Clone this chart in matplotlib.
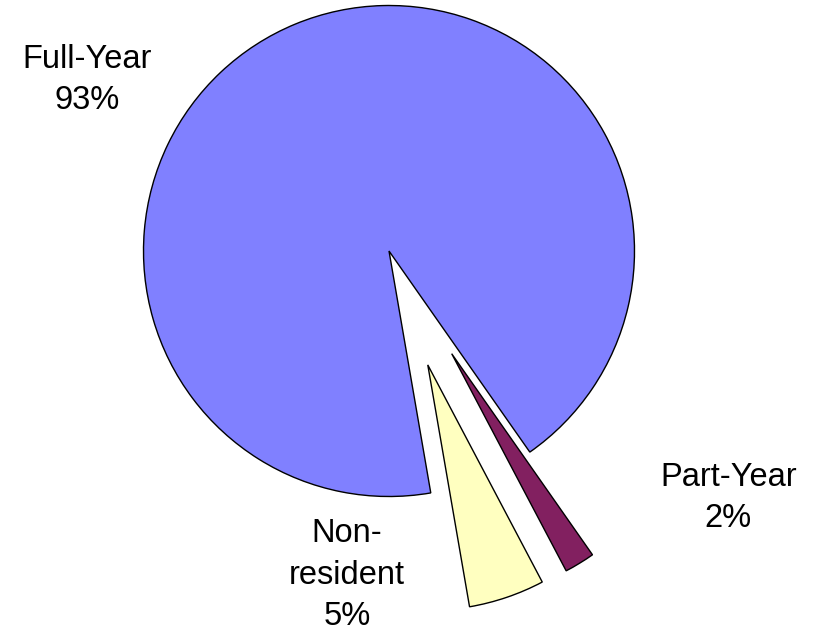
import matplotlib
matplotlib.use("Agg")
import matplotlib.pyplot as plt

categories = ["Full-Year", "Part-Year", "Non-\nresident"]
values = [93, 2, 5]
pct_labels = ["93%", "2%", "5%"]
colors = ["#8080FF", "#822060", "#FFFFC0"]
explode = [0, 0.49, 0.49]

plt.rcParams['font.family'] = ['Liberation Sans', 'DejaVu Sans']

W, H = 817, 633
fig = plt.figure(figsize=(W / 100, H / 100), dpi=100)
ax = fig.add_axes([0, 0, 1, 1])

ax.pie(values, colors=colors, explode=explode, startangle=-80.2,
       counterclock=False, radius=1.0,
       wedgeprops=dict(edgecolor="black", linewidth=1.0))

s = 245.5
cx, cy = 389, 251
ax.set_xlim(-cx / s, (W - cx) / s)
ax.set_ylim(-(H - cy) / s, cy / s)
ax.set_aspect('auto')
ax.axis('off')

label_px = [(87.5, 80), (728.3, 498), (347, 575)]
for cat, pct, (px, py) in zip(categories, pct_labels, label_px):
    ax.text((px - cx) / s, (cy - py) / s, f"{cat}\n{pct}", ha="center",
            va="center", fontsize=23.5, linespacing=1.42, color="black")

fig.savefig("out.png", dpi=100, facecolor="white")
